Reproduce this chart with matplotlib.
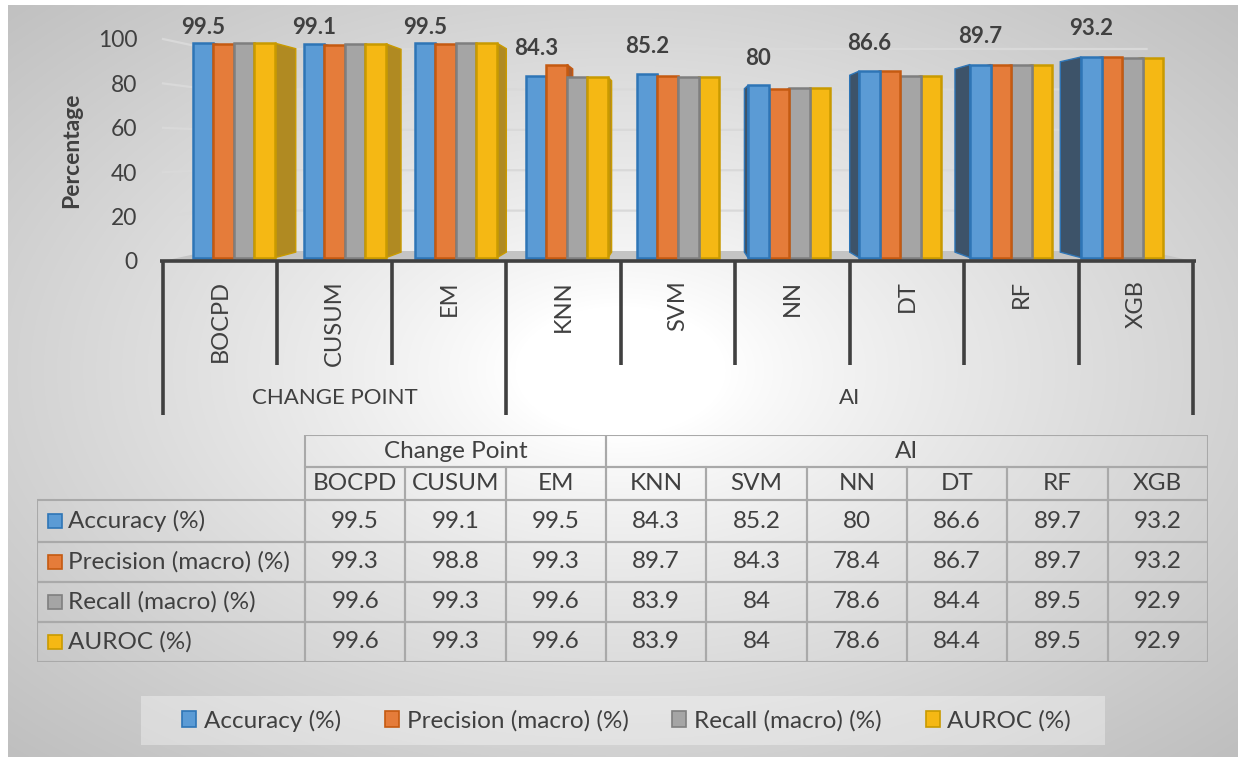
import numpy as np
import matplotlib
matplotlib.use("Agg")
import matplotlib.pyplot as plt
from matplotlib.patches import Polygon, Rectangle, Patch
from matplotlib.transforms import blended_transform_factory

plt.rcParams['font.family'] = ['Lato', 'DejaVu Sans']

# ---------------- data ----------------
categories = ["BOCPD", "CUSUM", "EM", "KNN", "SVM", "NN", "DT", "RF", "XGB"]
groups = ["CHANGE POINT", "AI"]
group_table_names = ["Change Point", "AI"]
group_sizes = [3, 6]
series_names = ["Accuracy (%)", "Precision (macro) (%)", "Recall (macro) (%)", "AUROC (%)"]
accuracy = [99.5, 99.1, 99.5, 84.3, 85.2, 80, 86.6, 89.7, 93.2]
precision = [99.3, 98.8, 99.3, 89.7, 84.3, 78.4, 86.7, 89.7, 93.2]
recall = [99.6, 99.3, 99.6, 83.9, 84, 78.6, 84.4, 89.5, 92.9]
auroc = [99.6, 99.3, 99.6, 83.9, 84, 78.6, 84.4, 89.5, 92.9]
series = [accuracy, precision, recall, auroc]
y_ticks = [0, 20, 40, 60, 80, 100]

# ---------------- styles ----------------
face_cols = ["#5B9BD5", "#E57C3A", "#A5A5A5", "#F5B814"]
edge_cols = ["#2E75B6", "#C55A11", "#7F7F7F", "#C99A00"]
side_cols = ["#3D5369", "#A8582A", "#7A7A7A", "#B08A22"]
TXT = "#404040"
FS = 17.5
W, H = 1238, 757

fig = plt.figure(figsize=(W / 100, H / 100), dpi=100)

# background with radial gradient
bg = fig.add_axes([0, 0, 1, 1], zorder=-10)
bg.set_xlim(0, W)
bg.set_ylim(H, 0)
bg.axis("off")
yy, xx = np.mgrid[0:H, 0:W]
t = np.sqrt(((xx - 620) / (W / 2)) ** 2 + ((yy - 370) / (H / 2)) ** 2) / np.sqrt(2)
g = 1 - 0.25 * np.clip((t - 0.12) / 0.88, 0, 1) ** 0.85
img = np.dstack([g, g, g])
bg.imshow(img[5:, 8:], extent=(8, W, H, 5), aspect="auto", interpolation="bilinear")
bg.add_patch(Rectangle((141, 696), 964, 49, facecolor="white", alpha=0.35, edgecolor="none"))

# ---------------- main chart ----------------
def fx(px):
    return px / W

def fy(py):
    return 1 - py / H

ax = fig.add_axes([fx(163), fy(261), 1030 / W, 222 / H])
ax.set_facecolor("none")
ax.set_xlim(-0.5, len(categories) - 0.5)
ax.set_ylim(0, 100)
for s in ax.spines.values():
    s.set_visible(False)
ax.set_xticks([])
ax.set_yticks(y_ticks)
ax.set_yticklabels([str(v) for v in y_ticks], fontsize=16.5, color=TXT)
ax.tick_params(axis="y", length=0, pad=18.5)
ax.set_ylabel("Percentage", fontsize=16.5, fontweight="bold", color=TXT)
ax.yaxis.set_label_coords(-0.079, 0.5)

VX, VY = (len(categories) - 1) / 2, 50.0
S_FRONT, S_BF, S_BB, S_WALL = 1.0, 0.97, 0.92, 0.91


def proj(x, y, s):
    return (VX + (x - VX) * s, VY + (y - VY) * s)


x_lo, x_hi = -0.5, len(categories) - 0.5
# floor
floor = [proj(x_lo, 0, S_FRONT), proj(x_hi, 0, S_FRONT), proj(x_hi, 0, S_WALL), proj(x_lo, 0, S_WALL)]
ax.add_patch(Polygon(floor, closed=True, facecolor="#C4C4C4", edgecolor="none", zorder=1, clip_on=False))
# gridlines (left wall + back wall)
for v in y_ticks[1:]:
    a = proj(x_lo, v, S_FRONT)
    b = proj(x_lo, v, S_WALL)
    c = proj(x_hi, v, S_WALL)
    ax.plot([a[0], b[0], c[0]], [a[1], b[1], c[1]], color="#D9D9D9", lw=1.6, zorder=0.5, clip_on=False)

# bars (painter's order: far from centre first)
bw = 0.1847
bars = []
for i in range(len(categories)):
    for j, vals in enumerate(series):
        x0 = i - 2 * bw + j * bw
        bars.append((abs(x0 + bw / 2 - VX), i, j, x0, vals[i]))
bars.sort(key=lambda b: -b[0])
z = 2
for _, i, j, x0, v in bars:
    x1 = x0 + bw
    xe = x1 if x1 <= VX else x0
    side = [proj(xe, 0, S_BF), proj(xe, v, S_BF), proj(xe, v, S_BB), proj(xe, 0, S_BB)]
    ax.add_patch(Polygon(side, closed=True, facecolor=side_cols[j], edgecolor=edge_cols[j],
                         lw=1.0, zorder=z, clip_on=False))
    front = [proj(x0, 0, S_BF), proj(x1, 0, S_BF), proj(x1, v, S_BF), proj(x0, v, S_BF)]
    ax.add_patch(Polygon(front, closed=True, facecolor=face_cols[j], edgecolor=edge_cols[j],
                         lw=1.8, zorder=z + 0.5, clip_on=False))
    z += 1

# data labels (accuracy series)
for i, v in enumerate(accuracy):
    xc = proj(i - 2 * bw + bw / 2, 0, S_BF)[0]
    ax.text(xc, min(v + 11.4, 105.4), f"{v:g}", ha="center", va="center", fontsize=16,
            fontweight="bold", color=TXT, zorder=200, clip_on=False)

# category axis
tr = blended_transform_factory(ax.transData, fig.transFigure)
ax.plot([x_lo - 0.03, x_hi + 0.03], [0, 0], color=TXT, lw=2.6, zorder=150, clip_on=False,
        solid_capstyle="butt")
bounds = [0]
for gs in group_sizes:
    bounds.append(bounds[-1] + gs)
for k in range(len(categories) + 1):
    bottom = 415 if k in bounds else 365
    ax.plot([k - 0.5, k - 0.5], [fy(261), fy(bottom)], transform=tr, color=TXT, lw=2.6,
            clip_on=False, solid_capstyle="butt")
for i, c in enumerate(categories):
    ax.text(i, fy(280), c, transform=tr, rotation=90, ha="center", va="top", fontsize=17, color=TXT)
for gname, a, b in zip(groups, bounds[:-1], bounds[1:]):
    ax.text((a + b - 1) / 2, fy(398), gname, transform=tr, ha="center", va="center", fontsize=16,
            color=TXT)

# ---------------- data table ----------------
tab = fig.add_axes([fx(37), fy(662), (1208 - 37) / W, (662 - 435) / H])
tab.set_facecolor("none")
tab.axis("off")
TW, TH = 1171, 227
tab.set_xlim(0, TW)
tab.set_ylim(TH, 0)
hdr_w = 268
col_w = (TW - hdr_w) / len(categories)
row_edges = [0, 32, 65, 107, 147, 187, 227]
LC = "#A9A9A9"
LW = 1.5


def cell(x0, y0, w, h):
    tab.add_patch(Rectangle((x0, y0), w, h, facecolor="none", edgecolor=LC, lw=LW))


# group header row
for gname, a, b in zip(group_table_names, bounds[:-1], bounds[1:]):
    x0 = hdr_w + a * col_w
    cell(x0, row_edges[0], (b - a) * col_w, row_edges[1] - row_edges[0])
    tab.text(x0 + (b - a) * col_w / 2, (row_edges[0] + row_edges[1]) / 2, gname, ha="center",
             va="center", fontsize=FS, color=TXT)
# category row
for i, c in enumerate(categories):
    x0 = hdr_w + i * col_w
    cell(x0, row_edges[1], col_w, row_edges[2] - row_edges[1])
    tab.text(x0 + col_w / 2, (row_edges[1] + row_edges[2]) / 2, c, ha="center", va="center",
             fontsize=FS, color=TXT)
# data rows
for j, (name, vals) in enumerate(zip(series_names, series)):
    y0, y1 = row_edges[2 + j], row_edges[3 + j]
    ym = (y0 + y1) / 2
    cell(0, y0, hdr_w, y1 - y0)
    tab.add_patch(Rectangle((11, ym - 7.5), 14, 14, facecolor=face_cols[j], edgecolor=edge_cols[j], lw=1.2))
    tab.text(31, ym, name, ha="left", va="center", fontsize=FS, color=TXT)
    for i, v in enumerate(vals):
        x0 = hdr_w + i * col_w
        cell(x0, y0, col_w, y1 - y0)
        tab.text(x0 + col_w / 2, ym, f"{v:g}", ha="center", va="center", fontsize=FS, color=TXT)

# ---------------- legend ----------------
handles = [Patch(facecolor=face_cols[j], edgecolor=edge_cols[j], lw=1.2) for j in range(len(series_names))]
leg = fig.legend(handles, series_names, loc="center left", bbox_to_anchor=(fx(182), fy(720.5)),
                 ncol=4, frameon=False, fontsize=FS, handlelength=0.58, handleheight=0.58,
                 handletextpad=0.32, columnspacing=1.8, borderpad=0, borderaxespad=0)
for t_ in leg.get_texts():
    t_.set_color(TXT)

fig.savefig("out.png", dpi=100)
